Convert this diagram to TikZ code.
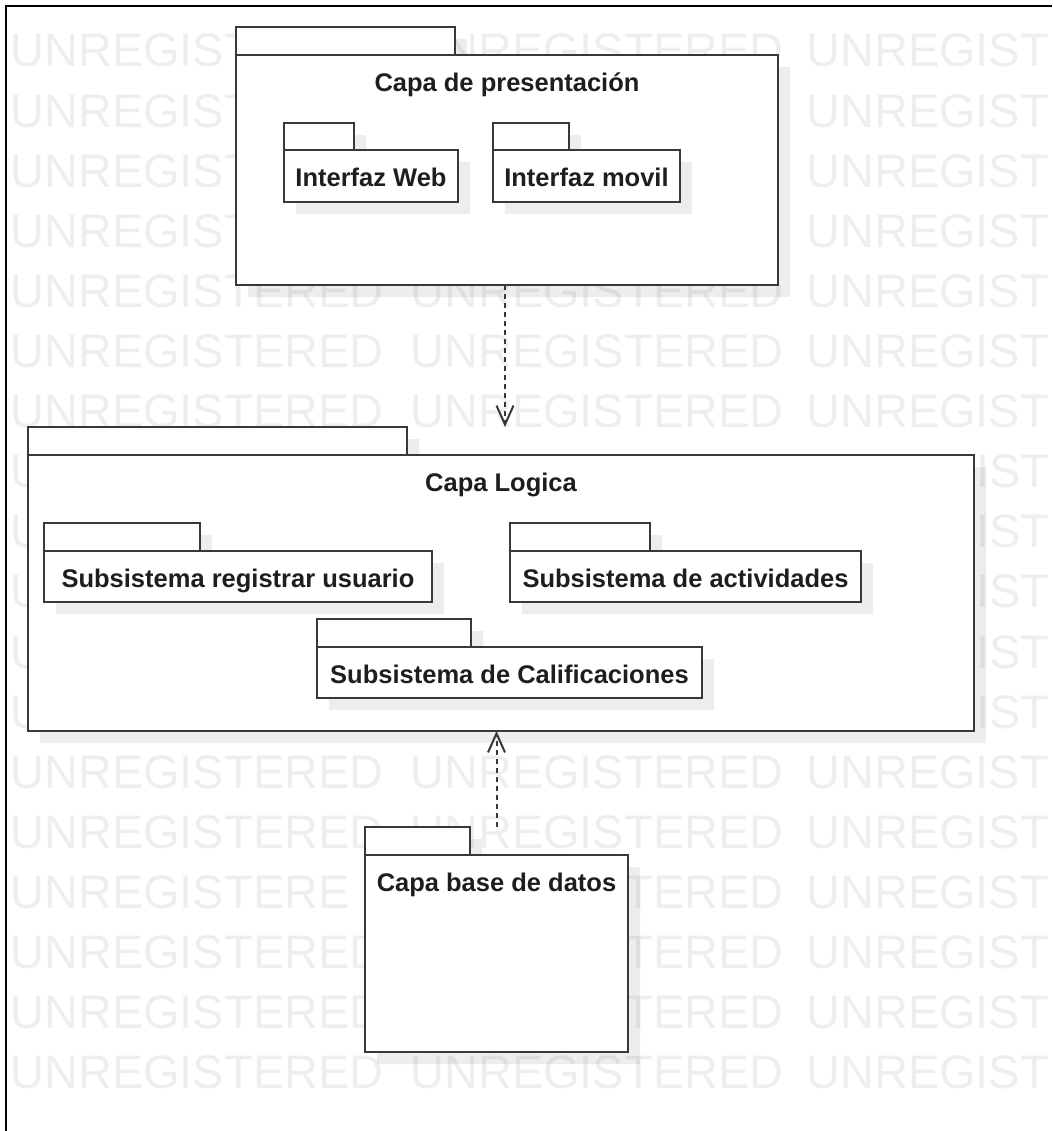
\documentclass[tikz,border=0pt]{standalone}
\usepackage{fontspec}
\setmainfont{Liberation Sans}
\usetikzlibrary{arrows.meta,calc}

\definecolor{inkline}{HTML}{383838}
\definecolor{inktext}{HTML}{1E1E1E}
\definecolor{wmgray}{HTML}{EEEEEE}

\tikzset{
  pkgtab/.style={draw=inkline, fill=white, line width=2pt, inner sep=0pt, outer sep=0pt},
  pkgbody/.style={draw=inkline, fill=white, line width=2pt, inner sep=0pt, outer sep=0pt},
  pkgname/.style={text=inktext, font=\fontsize{25.5}{30}\selectfont\bfseries, inner sep=0pt},
  pkgshadow/.style={fill=black, fill opacity=0.07},
  dep/.style={draw=inkline, line width=2pt, dash pattern=on 5pt off 4pt,
    -{Straight Barb[length=19pt,width=17pt]}},
  watermark/.style={text=wmgray, font=\fontsize{47}{50}\selectfont, inner sep=0pt, anchor=base west},
  frameline/.style={draw=black, line width=2pt},
}

% UML package: name, left, tab top, tab right, body top, right, bottom, title
\newcommand{\umlpackage}[8]{%
  \fill[pkgshadow] (#2+12,#3+12) -- (#4+12,#3+12) -- (#4+12,#5+12) -- (#6+12,#5+12)
    -- (#6+12,#7+12) -- (#2+12,#7+12) -- cycle;
  \node[pkgtab, anchor=north west, minimum width={#4-#2}, minimum height={#5-#3}] (#1-tab) at (#2,#3) {};
  \node[pkgbody, anchor=north west, minimum width={#6-#2}, minimum height={#7-#5}] (#1) at (#2,#5) {};
  \node[pkgname, anchor=base] (#1-name) at ([yshift=-36.5pt]#1.north) {#8};
}

\begin{document}
\begin{tikzpicture}[x=1pt, y=-1pt]
\useasboundingbox (0,0) rectangle (1052,1131);

% background watermark: row / left edge / visible letters
\begin{scope}
  \clip (0,0) rectangle (1052,1131);
  \foreach \k/\xx/\w [count=\n] in {
      0/10/UNREGIST, 0/410/UNREGISTERED, 0/806/UNREGIST,
      1/10/UNREGIST, 1/806/UNREGIST,
      2/10/UNREGIST, 2/806/UNREGIST,
      3/10/UNREGIST, 3/806/UNREGIST,
      4/10/UNREGISTERED, 4/410/UNREGISTERED, 4/806/UNREGIST,
      5/10/UNREGISTERED, 5/410/UNREGISTERED, 5/806/UNREGIST,
      6/10/UNREGISTERED, 6/410/UNREGISTERED, 6/806/UNREGIST,
      7/10/U, 7/976.3/IST,
      8/10/U, 8/976.3/IST,
      9/10/U, 9/976.3/IST,
      10/10/U, 10/976.3/IST,
      11/10/U, 11/976.3/IST,
      12/10/UNREGISTERED, 12/410/UNREGISTERED, 12/806/UNREGIST,
      13/10/UNREGISTERED, 13/410/UNREGISTERED, 13/806/UNREGIST,
      14/10/UNREGISTERE, 14/624.1/TERED, 14/806/UNREGIST,
      15/10/UNREGISTERED, 15/410/UNREGISTERED, 15/806/UNREGIST,
      16/10/UNREGISTERED, 16/410/UNREGISTERED, 16/806/UNREGIST,
      17/10/UNREGISTERED, 17/410/UNREGISTERED, 17/806/UNREGIST} {
    \node[watermark] (wm-\n) at (\xx, 67+60.1*\k) {\w};
  }
\end{scope}

% frame
\draw[frameline] (6,1131) -- (6,6) -- (1052,6);

% presentation layer
\umlpackage{pres}{236}{27}{455}{55}{778}{285}{Capa de presentación}
\umlpackage{web}{284}{123}{354}{150}{458}{202}{Interfaz Web}
\umlpackage{movil}{493}{123}{569}{150}{680}{202}{Interfaz movil}

% logic layer
\umlpackage{logic}{28}{427}{407}{455}{974}{731}{Capa Logica}
\umlpackage{reg}{44}{523}{200}{551}{432}{602}{Subsistema registrar usuario}
\umlpackage{act}{510}{523}{650}{551}{861}{602}{Subsistema de actividades}
\umlpackage{cal}{317}{619}{471}{647}{702}{698}{Subsistema de Calificaciones}

% data layer
\umlpackage{db}{365}{827}{470}{855}{628}{1052}{Capa base de datos}

% dependencies
\draw[dep] ([xshift=-2pt]pres.south) -- ([xshift=-2pt]pres.south |- logic-tab.north);
\draw[dep] (db.north |- db-tab.north) -- (db.north |- logic.south);
\end{tikzpicture}
\end{document}
